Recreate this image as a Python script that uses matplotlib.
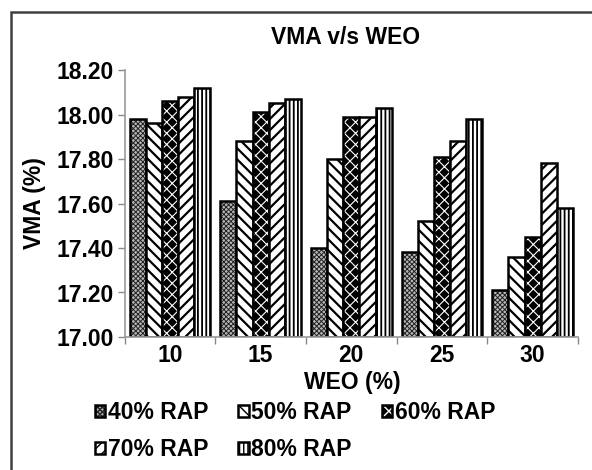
import numpy as np
import matplotlib
matplotlib.use("Agg")
import matplotlib.pyplot as plt
import matplotlib.patches as patches

plt.rcParams['font.family'] = ['Liberation Sans', 'DejaVu Sans']
plt.rcParams['font.weight'] = 'bold'

weo = ["10", "15", "20", "25", "30"]
series = ["40% RAP", "50% RAP", "60% RAP", "70% RAP", "80% RAP"]
vma_40 = [17.98, 17.61, 17.40, 17.38, 17.21]
vma_50 = [17.96, 17.88, 17.80, 17.52, 17.36]
vma_60 = [18.06, 18.01, 17.99, 17.81, 17.45]
vma_70 = [18.08, 18.05, 17.99, 17.88, 17.78]
vma_80 = [18.12, 18.07, 18.03, 17.98, 17.58]
values = [vma_40, vma_50, vma_60, vma_70, vma_80]

# (face colour, hatch colour, hatch, hatch line width) per series
styles = [
    ("#b8b8b8", "#222222", "xxxxxxx", 0.7),
    ("white", "black", "\\\\\\", 1.6),
    ("black", "white", "xxx", 0.8),
    ("white", "black", "///", 1.6),
    ("white", "black", "||||", 1.3),
]

W, H = 592, 470
fs = 16.5
fig = plt.figure(figsize=(W / 100, H / 100), dpi=100)
ax = fig.add_axes([124.6 / W, 1 - 337 / H, (578 - 124.6) / W, (337 - 70) / H])

x = np.arange(len(weo))
bw = 0.178
base = 17.0
handles = []
for i, (vals, (fc, hc, hatch, hlw)) in enumerate(zip(values, styles)):
    pos = x + (i - 2) * bw
    heights = np.array(vals) - base
    with plt.rc_context({"hatch.linewidth": hlw}):
        fill = ax.bar(pos, heights, bw, bottom=base, color=fc, edgecolor=hc,
                      hatch=hatch, linewidth=0)
    line = ax.bar(pos, heights, bw, bottom=base, fill=False,
                  edgecolor="black", linewidth=1.8)
    handles.append((fill[0], line[0]))

ax.set_xlim(-0.5, len(weo) - 0.5)
ax.set_ylim(17.0, 18.2)
yt = np.arange(17.0, 18.21, 0.2)
ax.set_yticks(yt)
ax.set_yticklabels(["%.2f" % v for v in yt], fontsize=fs)
ax.set_xticks(x)
ax.set_xticklabels(weo, fontsize=fs)
ax.set_xticks(np.arange(-0.5, len(weo)), minor=True)
ax.tick_params(axis="x", which="major", length=0, pad=5)
ax.tick_params(axis="x", which="minor", length=5, color="#888888", width=1)
ax.tick_params(axis="y", length=5, color="#888888", width=1, pad=3)

for side in ("top", "right"):
    ax.spines[side].set_visible(False)
for side in ("left", "bottom"):
    ax.spines[side].set_color("#999999")
    ax.spines[side].set_linewidth(1.2)

fig.text(346 / W, 1 - 37 / H, "VMA v/s WEO", ha="center", va="center",
         fontsize=fs, fontweight="bold")
fig.text(352 / W, 1 - 382 / H, "WEO (%)", ha="center", va="center",
         fontsize=fs, fontweight="bold")
fig.text(35 / W, 1 - 203 / H, "VMA (%)", ha="center", va="center",
         rotation=90, fontsize=fs, fontweight="bold")

# legend fills column by column, so reorder to read row by row
order = [0, 3, 1, 4, 2]
fig.legend([handles[k] for k in order], [series[k] for k in order],
           loc="upper left", bbox_to_anchor=(95 / W, 1 - 401 / H), ncol=3,
           frameon=False, fontsize=fs, handlelength=0.45, handleheight=0.45,
           handletextpad=0.12, columnspacing=1.3, labelspacing=0.62,
           borderpad=0, borderaxespad=0)

# outer frame, running off the right and bottom edges
fig.patches.append(patches.Rectangle((11 / W, -0.1), 2, 1 - 12 / H + 0.1,
                                     transform=fig.transFigure, fill=False,
                                     edgecolor="#404040", linewidth=1.8))

fig.savefig("out.png", dpi=100)
